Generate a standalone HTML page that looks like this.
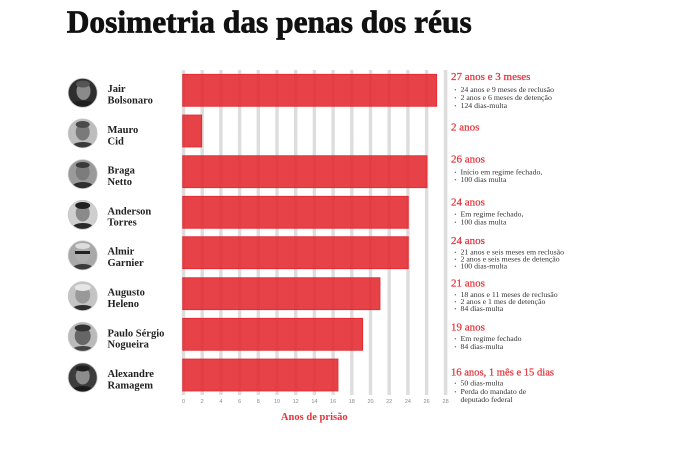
<!DOCTYPE html>
<html><head><meta charset="utf-8"><style>
html,body{margin:0;padding:0;background:#fff;}
svg{display:block;}
.nm{font-family:"Liberation Serif",serif;font-weight:bold;font-size:10.5px;fill:#222;}
.hd{font-family:"Liberation Serif",serif;font-size:11px;fill:#e3333b;stroke:#e3333b;stroke-width:0.25px;}
.bl{font-family:"Liberation Serif",serif;font-size:7.8px;fill:#333;}
.dt{font-family:"Liberation Sans",sans-serif;font-size:5px;fill:#666;}
.tk{font-family:"Liberation Sans",sans-serif;font-size:5.5px;fill:#8a8a8a;}
</style></head><body>
<svg width="700" height="451" viewBox="0 0 700 451" xmlns="http://www.w3.org/2000/svg">
<rect width="700" height="451" fill="#fff"/>
<text x="66.7" y="32.3" font-family="Liberation Serif, serif" font-weight="bold" font-size="32" fill="#111" stroke="#111" stroke-width="0.7" textLength="405" lengthAdjust="spacingAndGlyphs">Dosimetria das penas dos réus</text>

<!-- gridlines -->
<g fill="#dddddd">
<rect x="181.8" y="70" width="3.4" height="325"/>
<rect x="200.5" y="70" width="3.4" height="325"/>
<rect x="219.2" y="70" width="3.4" height="325"/>
<rect x="237.9" y="70" width="3.4" height="325"/>
<rect x="256.6" y="70" width="3.4" height="325"/>
<rect x="275.3" y="70" width="3.4" height="325"/>
<rect x="294.0" y="70" width="3.4" height="325"/>
<rect x="312.7" y="70" width="3.4" height="325"/>
<rect x="331.4" y="70" width="3.4" height="325"/>
<rect x="350.1" y="70" width="3.4" height="325"/>
<rect x="368.8" y="70" width="3.4" height="325"/>
<rect x="387.5" y="70" width="3.4" height="325"/>
<rect x="406.2" y="70" width="3.4" height="325"/>
<rect x="424.9" y="70" width="3.4" height="325"/>
<rect x="443.8" y="70" width="3.6" height="325"/>
</g>

<!-- bars -->
<g fill="rgb(227,40,47)" fill-opacity="0.88" stroke="rgb(226,38,46)" stroke-width="0.8">
<rect x="182.7" y="74.3" width="254" height="32"/>
<rect x="182.7" y="115" width="19" height="32"/>
<rect x="182.7" y="155.7" width="244.3" height="32"/>
<rect x="182.7" y="196.3" width="225.6" height="32"/>
<rect x="182.7" y="236.7" width="225.6" height="32"/>
<rect x="182.7" y="277.7" width="197.3" height="32"/>
<rect x="182.7" y="318.3" width="180" height="32"/>
<rect x="182.7" y="359" width="155.3" height="32"/>
</g>

<!-- tick labels -->
<g class="tk" text-anchor="middle">
<text x="183.5" y="403">0</text><text x="202.2" y="403">2</text><text x="220.9" y="403">4</text>
<text x="239.6" y="403">6</text><text x="258.3" y="403">8</text><text x="277" y="403">10</text>
<text x="295.7" y="403">12</text><text x="314.4" y="403">14</text><text x="333.1" y="403">16</text>
<text x="351.8" y="403">18</text><text x="370.5" y="403">20</text><text x="389.2" y="403">22</text>
<text x="407.9" y="403">24</text><text x="426.6" y="403">26</text><text x="445.6" y="403">28</text>
</g>
<text x="314.3" y="420" text-anchor="middle" font-family="Liberation Serif, serif" font-weight="bold" font-size="10.5" fill="#e3333b" textLength="66.7" lengthAdjust="spacingAndGlyphs">Anos de prisão</text>

<!-- photos -->
<defs>
<clipPath id="c1"><circle cx="82.7" cy="92.8" r="14.5"/></clipPath>
<clipPath id="c2"><circle cx="82.7" cy="133.4" r="14.5"/></clipPath>
<clipPath id="c3"><circle cx="82.7" cy="174.1" r="14.5"/></clipPath>
<clipPath id="c4"><circle cx="82.7" cy="214.8" r="14.5"/></clipPath>
<clipPath id="c5"><circle cx="82.7" cy="255.4" r="14.5"/></clipPath>
<clipPath id="c6"><circle cx="82.7" cy="296.1" r="14.5"/></clipPath>
<clipPath id="c7"><circle cx="82.7" cy="336.8" r="14.5"/></clipPath>
<clipPath id="c8"><circle cx="82.7" cy="377.5" r="14.5"/></clipPath>
</defs>
<!-- Jair -->
<g clip-path="url(#c1)">
<rect x="66" y="76" width="34" height="34" fill="#2e2e2e"/>
<ellipse cx="83.5" cy="91" rx="7" ry="9" fill="#8a8a8a"/>
<ellipse cx="83" cy="84" rx="7" ry="3.5" fill="#555"/>
<path d="M68 110 Q72 100 83 101 Q94 100 98 110 Z" fill="#1e1e1e"/>
</g>
<!-- Mauro -->
<g clip-path="url(#c2)">
<rect x="66" y="117" width="34" height="34" fill="#bdbdbd"/>
<ellipse cx="82.7" cy="132" rx="7" ry="8.5" fill="#7a7a7a"/>
<ellipse cx="82.7" cy="124.5" rx="7" ry="3.5" fill="#4a4a4a"/>
<path d="M68 150 Q72 142 83 142 Q94 142 97 150 Z" fill="#3a3a3a"/>
</g>
<!-- Braga -->
<g clip-path="url(#c3)">
<rect x="66" y="158" width="34" height="34" fill="#9a9a9a"/>
<ellipse cx="82.7" cy="172" rx="7" ry="8.5" fill="#7c7c7c"/>
<ellipse cx="82.7" cy="165" rx="7" ry="3" fill="#3a3a3a"/>
<path d="M68 191 Q72 182 83 182 Q94 182 97 191 Z" fill="#2e2e2e"/>
</g>
<!-- Anderson -->
<g clip-path="url(#c4)">
<rect x="66" y="198" width="34" height="34" fill="#cfcfcf"/>
<ellipse cx="82.7" cy="213" rx="7" ry="8.5" fill="#8a8a8a"/>
<ellipse cx="82.7" cy="205.5" rx="7.5" ry="3.5" fill="#222"/>
<path d="M68 232 Q72 223 83 223 Q94 223 97 232 Z" fill="#2a2a2a"/>
</g>
<!-- Almir -->
<g clip-path="url(#c5)">
<rect x="66" y="239" width="34" height="34" fill="#a8a8a8"/>
<ellipse cx="82.7" cy="254" rx="7.5" ry="8.5" fill="#b0b0b0"/>
<ellipse cx="82.7" cy="246" rx="7.5" ry="3" fill="#ddd"/>
<rect x="75" y="251" width="15" height="3" fill="#222"/>
<path d="M68 273 Q72 264 83 264 Q94 264 97 273 Z" fill="#3a3a3a"/>
</g>
<!-- Augusto -->
<g clip-path="url(#c6)">
<rect x="66" y="279" width="34" height="34" fill="#c4c4c4"/>
<ellipse cx="82.7" cy="295" rx="7.5" ry="8.5" fill="#999"/>
<ellipse cx="82.7" cy="287.5" rx="8" ry="3.5" fill="#e6e6e6"/>
<path d="M68 313 Q72 305 83 305 Q94 305 97 313 Z" fill="#2e2e2e"/>
</g>
<!-- Paulo -->
<g clip-path="url(#c7)">
<rect x="66" y="320" width="34" height="34" fill="#bababa"/>
<ellipse cx="82.7" cy="336" rx="8" ry="9" fill="#666"/>
<ellipse cx="82.7" cy="328" rx="8" ry="3.5" fill="#333"/>
<path d="M68 354 Q72 346 83 346 Q94 346 97 354 Z" fill="#444"/>
</g>
<!-- Alexandre -->
<g clip-path="url(#c8)">
<rect x="66" y="361" width="34" height="34" fill="#3c3c3c"/>
<ellipse cx="82.7" cy="376" rx="7" ry="8.5" fill="#8c8c8c"/>
<ellipse cx="82.7" cy="368.5" rx="7" ry="3" fill="#1e1e1e"/>
<path d="M68 395 Q72 386 83 386 Q94 386 97 395 Z" fill="#1a1a1a"/>
</g>
<g fill="none" stroke="#c8c8c8" stroke-width="0.8">
<circle cx="82.7" cy="92.8" r="14.5"/><circle cx="82.7" cy="133.4" r="14.5"/>
<circle cx="82.7" cy="174.1" r="14.5"/><circle cx="82.7" cy="214.8" r="14.5"/>
<circle cx="82.7" cy="255.4" r="14.5"/><circle cx="82.7" cy="296.1" r="14.5"/>
<circle cx="82.7" cy="336.8" r="14.5"/><circle cx="82.7" cy="377.5" r="14.5"/>
</g>

<!-- names -->
<g class="nm">
<text x="107.5" y="92">Jair</text><text x="107.5" y="103.5">Bolsonaro</text>
<text x="107.5" y="133">Mauro</text><text x="107.5" y="144.3">Cid</text>
<text x="107.5" y="173.7">Braga</text><text x="107.5" y="185">Netto</text>
<text x="107.5" y="214.3">Anderson</text><text x="107.5" y="225.6">Torres</text>
<text x="107.5" y="254.7">Almir</text><text x="107.5" y="266">Garnier</text>
<text x="107.5" y="295.7">Augusto</text><text x="107.5" y="307">Heleno</text>
<text x="107.5" y="336.3">Paulo Sérgio</text><text x="107.5" y="347.6">Nogueira</text>
<text x="107.5" y="377">Alexandre</text><text x="107.5" y="388.3">Ramagem</text>
</g>

<!-- annotations -->
<g class="hd">
<text x="451" y="80">27 anos e 3 meses</text>
<text x="451" y="130.7">2 anos</text>
<text x="451" y="162.7">26 anos</text>
<text x="451" y="205.7">24 anos</text>
<text x="451" y="244">24 anos</text>
<text x="451" y="286.7">21 anos</text>
<text x="451" y="330.7">19 anos</text>
<text x="451" y="375.7" textLength="103" lengthAdjust="spacingAndGlyphs">16 anos, 1 mês e 15 dias</text>
</g>
<g class="dt">
<text x="454.5" y="91.5">•</text><text x="454.5" y="99.5">•</text><text x="454.5" y="107.5">•</text>
<text x="454.5" y="173.8">•</text><text x="454.5" y="181.5">•</text>
<text x="454.5" y="216.2">•</text><text x="454.5" y="224.2">•</text>
<text x="454.5" y="254">•</text><text x="454.5" y="261">•</text><text x="454.5" y="268">•</text>
<text x="454.5" y="296.5">•</text><text x="454.5" y="303.5">•</text><text x="454.5" y="310.5">•</text>
<text x="454.5" y="340.5">•</text><text x="454.5" y="348.5">•</text>
<text x="454.5" y="385">•</text><text x="454.5" y="393.5">•</text>
</g>
<g class="bl">
<text x="460.5" y="92">24 anos e 9 meses de reclusão</text>
<text x="460.5" y="100">2 anos e 6 meses de detenção</text>
<text x="460.5" y="108">124 dias-multa</text>
<text x="460.5" y="174.3">Início em regime fechado,</text>
<text x="460.5" y="182">100 dias multa</text>
<text x="460.5" y="216.7">Em regime fechado,</text>
<text x="460.5" y="224.7">100 dias multa</text>
<text x="460.5" y="254.5">21 anos e seis meses em reclusão</text>
<text x="460.5" y="261.5">2 anos e seis meses de detenção</text>
<text x="460.5" y="268.5">100 dias-multa</text>
<text x="460.5" y="297">18 anos e 11 meses de reclusão</text>
<text x="460.5" y="304">2 anos e 1 mes de detenção</text>
<text x="460.5" y="311">84 dias-multa</text>
<text x="460.5" y="341">Em regime fechado</text>
<text x="460.5" y="349">84 dias-multa</text>
<text x="460.5" y="385.5">50 dias-multa</text>
<text x="460.5" y="394">Perda do mandato de</text>
<text x="460.5" y="402">deputado federal</text>
</g>
</svg>
</body></html>
